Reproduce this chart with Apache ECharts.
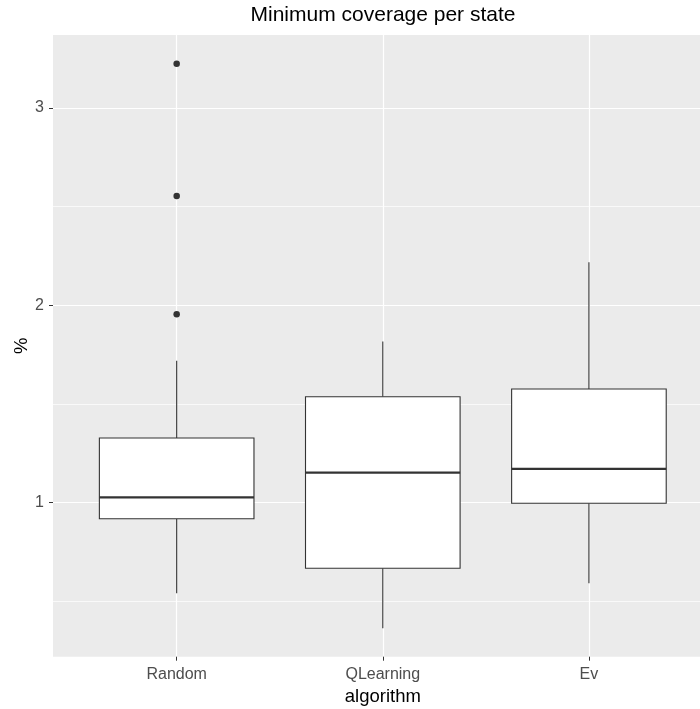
<!DOCTYPE html>
<html><head><meta charset="utf-8">
<script src="https://cdn.jsdelivr.net/npm/echarts@6/dist/echarts.min.js"></script>
<style>html,body{margin:0;padding:0;background:#fff}#c{width:700px;height:709px}</style>
</head><body><div id="c"></div>
<script>
const categories = ['Random', 'QLearning', 'Ev'];
const whiskerLow = [0.541, 0.364, 0.592];
const q1 = [0.919, 0.668, 0.997];
const median = [1.027, 1.152, 1.171];
const q3 = [1.328, 1.537, 1.576];
const whiskerHigh = [1.719, 1.816, 2.218];
const outlierCategory = ['Random', 'Random', 'Random'];
const outlierValues = [3.224, 2.554, 1.954];
const yTicks = [1, 2, 3];
const yMinorLines = [0.5, 1.5, 2.5];
const xTicks = [1, 2, 3];

const boxData = categories.map((c, i) => [i + 1, whiskerLow[i], q1[i], median[i], q3[i], whiskerHigh[i]]);
const outlierData = outlierCategory.map((c, i) => [categories.indexOf(c) + 1, outlierValues[i]]);

const chart = echarts.init(document.getElementById('c'), null, {renderer: 'canvas'});
const FONT = "'Liberation Sans', Arial, sans-serif";
const EDGE = '#333333';
const Y_MIN = 0.22, Y_MAX = 3.369;

chart.setOption({
  animation: false,
  textStyle: {fontFamily: FONT},
  title: {
    text: 'Minimum coverage per state',
    left: 383, top: 5, padding: 0, textAlign: 'center',
    textStyle: {fontSize: 21, fontWeight: 'normal', color: '#000', fontFamily: FONT}
  },
  grid: {
    left: 53, right: -12.6, top: 35, bottom: 52.3,
    show: true, backgroundColor: '#EBEBEB', borderWidth: 0,
    containLabel: false, outerBoundsMode: 'none'
  },
  xAxis: {
    type: 'value', min: 0.4, max: 3.6,
    axisLine: {show: false},
    axisTick: {show: true, customValues: xTicks, length: 4, lineStyle: {color: EDGE, width: 1}},
    axisLabel: {customValues: xTicks, formatter: v => categories[Math.round(v) - 1], color: '#4D4D4D', fontSize: 16, margin: 10, fontFamily: FONT},
    splitLine: {show: true, lineStyle: {color: '#fff', width: 1.2}},
    name: 'algorithm', nameLocation: 'middle', nameGap: 26,
    nameTextStyle: {color: '#000', fontSize: 18.5, fontFamily: FONT}
  },
  yAxis: [
    {
      type: 'value', min: Y_MIN, max: Y_MAX,
      axisLine: {show: false},
      axisTick: {show: true, customValues: yTicks, length: 4, lineStyle: {color: EDGE, width: 1}},
      axisLabel: {customValues: yTicks, color: '#4D4D4D', fontSize: 16, margin: 9, fontFamily: FONT},
      splitLine: {show: true, lineStyle: {color: '#fff', width: 1.2}},
      name: '%', nameLocation: 'middle', nameGap: 22, nameRotate: 90, nameMoveOverlap: false,
      nameTextStyle: {color: '#000', fontSize: 18.5, fontFamily: FONT}
    },
    {
      type: 'value', min: Y_MIN, max: Y_MAX, position: 'left',
      axisLine: {show: false},
      axisTick: {show: false, customValues: yMinorLines},
      axisLabel: {show: false, customValues: yMinorLines},
      splitLine: {show: true, lineStyle: {color: '#fff', width: 0.7}}
    }
  ],
  series: [
    {
      type: 'custom', z: 3, silent: true,
      data: boxData,
      encode: {x: 0, y: [1, 2, 3, 4, 5]},
      renderItem: function (params, api) {
        const x = api.value(0);
        const lo = api.coord([x, api.value(1)]);
        const b1 = api.coord([x, api.value(2)]);
        const md = api.coord([x, api.value(3)]);
        const b3 = api.coord([x, api.value(4)]);
        const hi = api.coord([x, api.value(5)]);
        const half = api.size([0.75, 0])[0] / 2;
        const cx = lo[0];
        const ls = {stroke: EDGE, lineWidth: 1.1};
        return {
          type: 'group',
          children: [
            {type: 'line', shape: {x1: cx, y1: lo[1], x2: cx, y2: b1[1]}, style: ls},
            {type: 'line', shape: {x1: cx, y1: b3[1], x2: cx, y2: hi[1]}, style: ls},
            {type: 'rect', shape: {x: cx - half, y: b3[1], width: half * 2, height: b1[1] - b3[1]},
              style: {fill: '#fff', stroke: EDGE, lineWidth: 1.1}},
            {type: 'line', shape: {x1: cx - half, y1: md[1], x2: cx + half, y2: md[1]},
              style: {stroke: EDGE, lineWidth: 2.2}}
          ]
        };
      }
    },
    {
      type: 'scatter', z: 4, silent: true,
      data: outlierData, symbolSize: 6.5,
      itemStyle: {color: EDGE, opacity: 1}
    }
  ]
});
</script>
</body></html>
